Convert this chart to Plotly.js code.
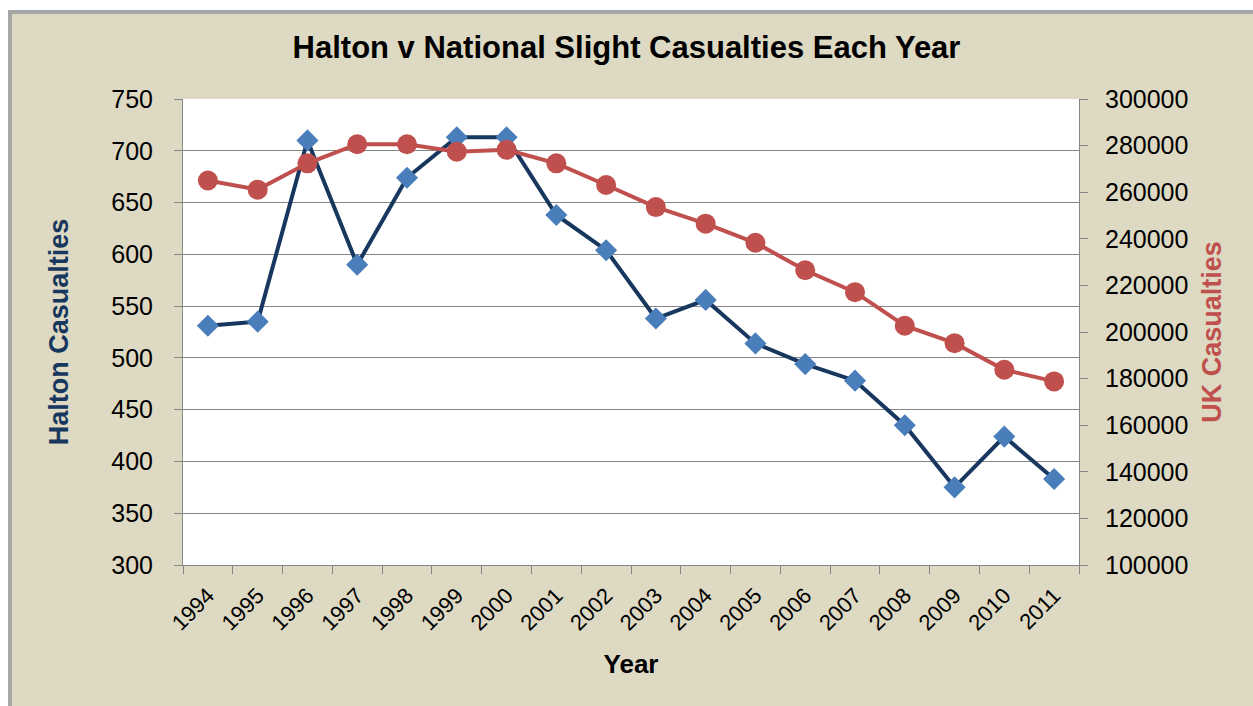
<!DOCTYPE html>
<html>
<head>
<meta charset="utf-8">
<script src="https://cdn.plot.ly/plotly-3.0.1.min.js"></script>
<style>html,body{margin:0;padding:0;background:#fff;}#chart{width:1253px;height:706px;}</style>
</head>
<body>
<div id="chart"></div>
<script>
const years = ["1994","1995","1996","1997","1998","1999","2000","2001","2002","2003","2004","2005","2006","2007","2008","2009","2010","2011"];
const haltonCasualties = [531, 535, 710, 590, 674, 713, 713, 638, 604, 538, 556, 514, 494, 478, 435, 375, 424, 383];
const ukCasualties = [265000, 261100, 272400, 280600, 280600, 277400, 278200, 272400, 263100, 253600, 246500, 238300, 226500, 217100, 202700, 195200, 183800, 178800];

const FONT = "Liberation Sans, Arial, sans-serif";
const W = 1253, H = 706;
const M = {l: 183, r: 174, t: 99, b: 141};
const PW = W - M.l - M.r, PH = H - M.t - M.b;
const px = x => (x - M.l) / PW;
const py = y => (H - M.b - y) / PH;

const traces = [
  {
    x: years, y: haltonCasualties, type: "scatter", mode: "lines+markers",
    name: "Halton", yaxis: "y",
    line: {color: "#17375E", width: 4},
    marker: {symbol: "diamond", size: 17, color: "#4A7EBB"}
  },
  {
    x: years, y: ukCasualties, type: "scatter", mode: "lines+markers",
    name: "UK", yaxis: "y2",
    line: {color: "#C0504D", width: 4},
    marker: {symbol: "circle", size: 20, color: "#C0504D"}
  }
];

const layout = {
  width: W, height: H,
  margin: M,
  paper_bgcolor: "#DDD9C3",
  plot_bgcolor: "#FFFFFF",
  showlegend: false,
  font: {family: FONT, color: "#000"},
  title: {
    text: "<b>Halton v National Slight Casualties Each Year</b>",
    font: {family: FONT, size: 31, color: "#000"},
    x: 0.5, xanchor: "center", y: 1 - 47 / H, yanchor: "middle"
  },
  xaxis: {
    type: "category",
    range: [-0.5, years.length - 0.5],
    tickson: "boundaries",
    ticks: "outside", ticklen: 8, tickcolor: "#868686", tickwidth: 1,
    showline: true, linecolor: "#868686", linewidth: 1,
    showgrid: false, zeroline: false,
    tickangle: -45,
    tickfont: {family: FONT, size: 22, color: "#000"},
    ticklabelstandoff: 8,
    title: {text: "<b>Year</b>", font: {family: FONT, size: 26, color: "#000"}, standoff: 20}
  },
  yaxis: {
    range: [300, 750], dtick: 50, tick0: 300,
    ticks: "outside", ticklen: 8, tickcolor: "#868686",
    showline: true, linecolor: "#868686", linewidth: 1,
    showgrid: true, gridcolor: "#868686", gridwidth: 1, zeroline: false,
    tickfont: {family: FONT, size: 25, color: "#000"},
    ticklabelstandoff: 16,
    title: {text: "<b>Halton Casualties</b>", font: {family: FONT, size: 27, color: "#17375E"}, standoff: 34}
  },
  yaxis2: {
    overlaying: "y", side: "right",
    range: [100000, 300000], dtick: 20000, tick0: 100000,
    tickformat: "d",
    ticks: "outside", ticklen: 8, tickcolor: "#868686",
    showline: true, linecolor: "#868686", linewidth: 1,
    showgrid: false, zeroline: false,
    tickfont: {family: FONT, size: 25, color: "#000"},
    ticklabelstandoff: 12,
    title: {text: "<b>UK Casualties</b>", font: {family: FONT, size: 27, color: "#C0504D"}, standoff: 14}
  },
  shapes: [
    {type: "rect", xref: "paper", yref: "paper", x0: px(-5), x1: px(9), y0: py(720), y1: py(-5), fillcolor: "#FFFFFF", line: {width: 0}},
    {type: "rect", xref: "paper", yref: "paper", x0: px(-5), x1: px(1260), y0: py(10), y1: py(-5), fillcolor: "#FFFFFF", line: {width: 0}},
    {type: "line", xref: "paper", yref: "paper", x0: px(8), x1: px(1260), y0: py(12), y1: py(12), line: {color: "#A6A6A6", width: 4}},
    {type: "line", xref: "paper", yref: "paper", x0: px(10), x1: px(10), y0: py(10), y1: py(720), line: {color: "#A6A6A6", width: 4}}
  ]
};

Plotly.newPlot("chart", traces, layout, {displayModeBar: false, staticPlot: true});
</script>
</body>
</html>
